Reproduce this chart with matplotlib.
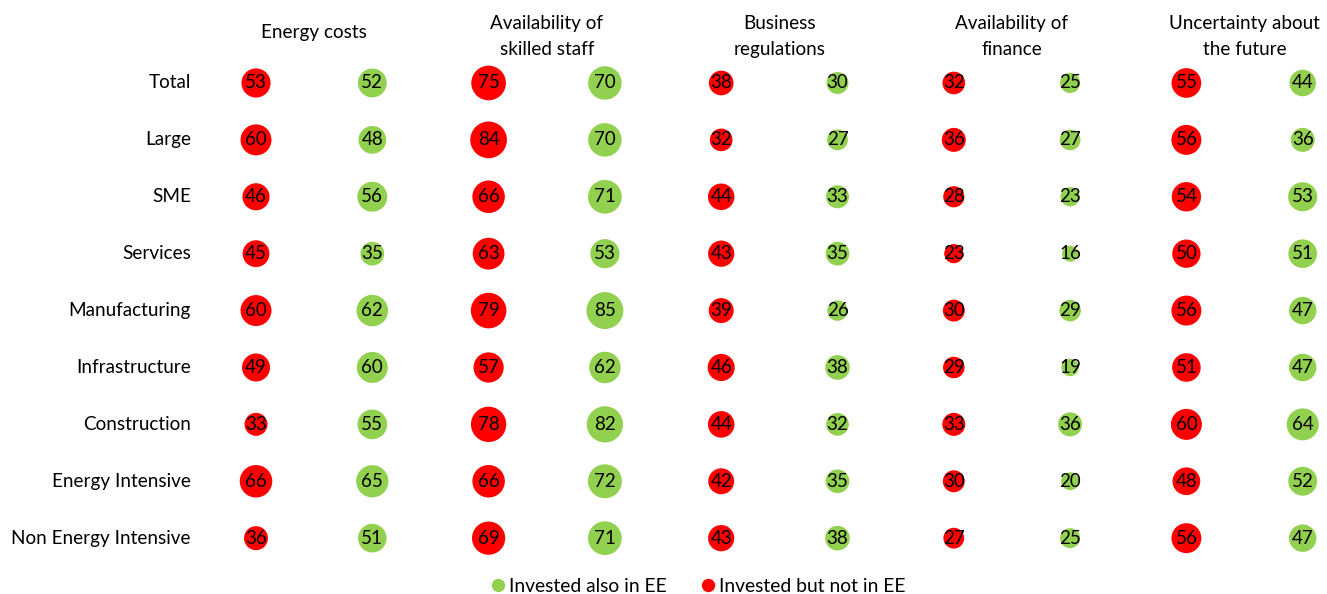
import matplotlib
matplotlib.use("Agg")
import matplotlib.pyplot as plt
from matplotlib.lines import Line2D

plt.rcParams['font.family'] = ['Lato', 'DejaVu Sans']

rows = ["Total", "Large", "SME", "Services", "Manufacturing", "Infrastructure",
        "Construction", "Energy Intensive", "Non Energy Intensive"]
obstacles = ["Energy costs", "Availability of\nskilled staff", "Business\nregulations",
             "Availability of\nfinance", "Uncertainty about\nthe future"]

# Invested but not in EE (red)
not_ee = [
    [53, 75, 38, 32, 55],
    [60, 84, 32, 36, 56],
    [46, 66, 44, 28, 54],
    [45, 63, 43, 23, 50],
    [60, 79, 39, 30, 56],
    [49, 57, 46, 29, 51],
    [33, 78, 44, 33, 60],
    [66, 66, 42, 30, 48],
    [36, 69, 43, 27, 56],
]
# Invested also in EE (green)
also_ee = [
    [52, 70, 30, 25, 44],
    [48, 70, 27, 27, 36],
    [56, 71, 33, 23, 53],
    [35, 53, 35, 16, 51],
    [62, 85, 26, 29, 47],
    [60, 62, 38, 19, 47],
    [55, 82, 32, 36, 64],
    [65, 72, 35, 20, 52],
    [51, 71, 38, 25, 47],
]

RED = "#FF0000"
GREEN = "#92D050"
SCALE = 8.3
FS = 13.6

W, H = 1327, 594
fig = plt.figure(figsize=(W / 100, H / 100), dpi=100)
ax = fig.add_axes([0.1491, 0.0461, 0.8764, 0.8621])
ax.set_xlim(-0.5, 9.5)
ax.set_ylim(8.5, -0.5)
ax.axis("off")

for j, row in enumerate(rows):
    for k in range(len(obstacles)):
        for off, vals, col in ((0, not_ee, RED), (1, also_ee, GREEN)):
            v = vals[j][k]
            x = 2 * k + off
            ax.scatter([x], [j], s=v * SCALE, color=col, edgecolors="none", zorder=2)
            ax.text(x, j, str(v), ha="center", va="center", fontsize=13.5,
                    color="black", zorder=3)
    ax.text(-0.56, j, row, ha="right", va="center", fontsize=FS, clip_on=False)

for k, name in enumerate(obstacles):
    ypos = -0.88 if "\n" not in name else -0.82
    ax.text(2 * k + 0.5, ypos, name, ha="center", va="center", fontsize=FS,
            linespacing=1.62, clip_on=False)

handles = [
    Line2D([], [], marker="o", linestyle="none", color=GREEN, markersize=8.6,
           label="Invested also in EE"),
    Line2D([], [], marker="o", linestyle="none", color=RED, markersize=8.6,
           label="Invested but not in EE"),
]
fig.legend(handles=handles, loc="center", bbox_to_anchor=(0.525, 1 - 586 / H),
           ncol=2, frameon=False, fontsize=13.9, handletextpad=0.07,
           columnspacing=1.65, handlelength=1.0, borderpad=0.2)

fig.savefig("out.png", dpi=100)
